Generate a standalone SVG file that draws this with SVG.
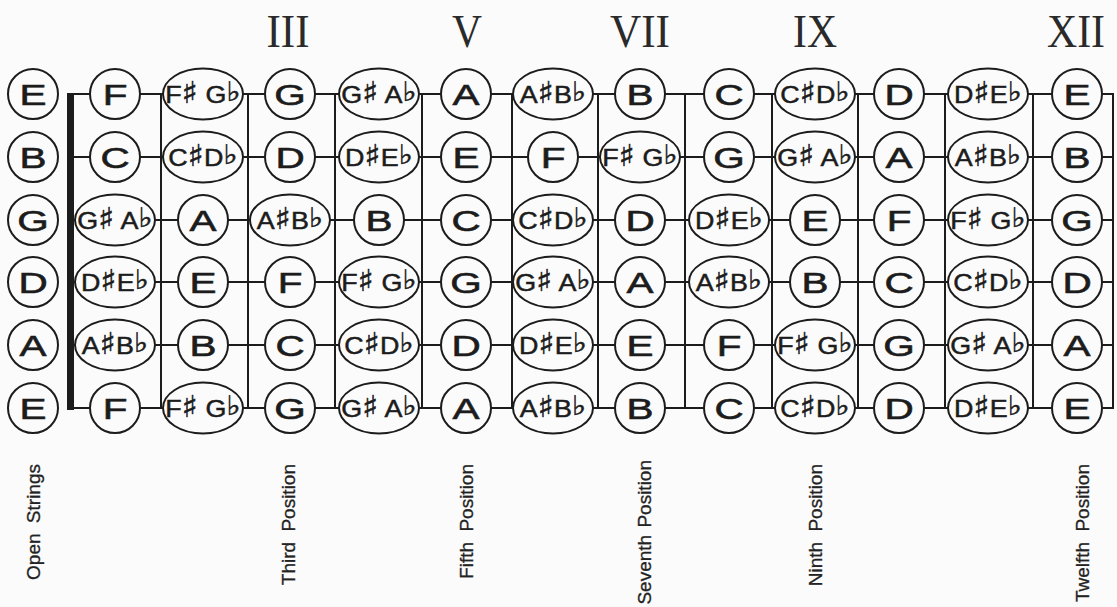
<svg xmlns="http://www.w3.org/2000/svg" width="1117" height="607" viewBox="0 0 1117 607">
<style>
.bg{fill:#fbfbfb}
.ln{stroke:#1c1c1c;stroke-width:2;fill:none}
.nut{fill:#1c1c1c}
.nd circle,.nd ellipse{fill:#fbfbfb;stroke:#1c1c1c;stroke-width:2}
.nt{font-family:"Liberation Sans",Arial,sans-serif;font-size:30px;text-anchor:middle;fill:#1c1c1c;stroke:#1c1c1c;stroke-width:0.6;transform:scale(1.35,1)}
.et{font-family:"Liberation Sans",Arial,sans-serif;font-size:24px;text-anchor:middle;fill:#1c1c1c;stroke:#1c1c1c;stroke-width:0.5;transform:scale(1.12,1)}
.s{font-family:"DejaVu Sans",sans-serif;font-size:30px;font-weight:bold}
.f{font-family:"DejaVu Sans",sans-serif;font-size:27px}
.rn{font-family:"Liberation Serif","Times New Roman",serif;font-size:46px;text-anchor:middle;fill:#2a2a2a}
.pl{font-family:"Liberation Sans",Arial,sans-serif;font-size:19px;text-anchor:end;fill:#222;stroke:#222;stroke-width:0.3;word-spacing:5px}
</style>
<rect class="bg" x="0" y="0" width="1117" height="607"/>
<g id="numerals">
<text class="rn" x="288" y="47" textLength="43" lengthAdjust="spacingAndGlyphs">III</text>
<text class="rn" x="467" y="47" textLength="30" lengthAdjust="spacingAndGlyphs">V</text>
<text class="rn" x="640" y="47" textLength="60" lengthAdjust="spacingAndGlyphs">VII</text>
<text class="rn" x="815" y="47" textLength="44" lengthAdjust="spacingAndGlyphs">IX</text>
<text class="rn" x="1076" y="47" textLength="58" lengthAdjust="spacingAndGlyphs">XII</text>
</g>
<g id="connectors">
<path class="ln" d="M70 94H1113M70 157H1113M70 220H1113M70 282H1113M70 345H1113M70 408H1113"/>
<path class="ln" d="M161 94V408M248 94V408M335 94V408M422 94V408M512 94V408M598 94V408M685 94V408M772 94V408M858 94V408M945 94V408M1033 94V408M1113 93V409"/>
<rect class="nut" x="67" y="93" width="7" height="317"/>
</g>
<g id="row1">
<g id="n1-0" class="nd" transform="translate(33,94)"><circle r="25"/><text class="nt" y="11">E</text></g>
<g id="n1-1" class="nd" transform="translate(115,94)"><circle r="25"/><text class="nt" y="11">F</text></g>
<g id="n1-2" class="nd" transform="translate(203,94)"><ellipse rx="40" ry="25.5"/><text class="et" y="9">F<tspan class="s">♯</tspan> G<tspan class="f" dy="-2">♭</tspan></text></g>
<g id="n1-3" class="nd" transform="translate(290,94)"><circle r="25"/><text class="nt" y="11">G</text></g>
<g id="n1-4" class="nd" transform="translate(379,94)"><ellipse rx="40" ry="25.5"/><text class="et" y="9">G<tspan class="s">♯</tspan> A<tspan class="f" dy="-2">♭</tspan></text></g>
<g id="n1-5" class="nd" transform="translate(466,94)"><circle r="25"/><text class="nt" y="11">A</text></g>
<g id="n1-6" class="nd" transform="translate(553,94)"><ellipse rx="40" ry="25.5"/><text class="et" y="9">A<tspan class="s">♯</tspan>B<tspan class="f" dy="-2">♭</tspan></text></g>
<g id="n1-7" class="nd" transform="translate(640,94)"><circle r="25"/><text class="nt" y="11">B</text></g>
<g id="n1-8" class="nd" transform="translate(729,94)"><circle r="25"/><text class="nt" y="11">C</text></g>
<g id="n1-9" class="nd" transform="translate(815,94)"><ellipse rx="40" ry="25.5"/><text class="et" y="9">C<tspan class="s">♯</tspan>D<tspan class="f" dy="-2">♭</tspan></text></g>
<g id="n1-10" class="nd" transform="translate(899,94)"><circle r="25"/><text class="nt" y="11">D</text></g>
<g id="n1-11" class="nd" transform="translate(988,94)"><ellipse rx="40" ry="25.5"/><text class="et" y="9">D<tspan class="s">♯</tspan>E<tspan class="f" dy="-2">♭</tspan></text></g>
<g id="n1-12" class="nd" transform="translate(1077,94)"><circle r="25"/><text class="nt" y="11">E</text></g>
</g>
<g id="row2">
<g id="n2-0" class="nd" transform="translate(33,157)"><circle r="25"/><text class="nt" y="11">B</text></g>
<g id="n2-1" class="nd" transform="translate(115,157)"><circle r="25"/><text class="nt" y="11">C</text></g>
<g id="n2-2" class="nd" transform="translate(203,157)"><ellipse rx="40" ry="25.5"/><text class="et" y="9">C<tspan class="s">♯</tspan>D<tspan class="f" dy="-2">♭</tspan></text></g>
<g id="n2-3" class="nd" transform="translate(290,157)"><circle r="25"/><text class="nt" y="11">D</text></g>
<g id="n2-4" class="nd" transform="translate(379,157)"><ellipse rx="40" ry="25.5"/><text class="et" y="9">D<tspan class="s">♯</tspan>E<tspan class="f" dy="-2">♭</tspan></text></g>
<g id="n2-5" class="nd" transform="translate(466,157)"><circle r="25"/><text class="nt" y="11">E</text></g>
<g id="n2-6" class="nd" transform="translate(553,157)"><circle r="25"/><text class="nt" y="11">F</text></g>
<g id="n2-7" class="nd" transform="translate(640,157)"><ellipse rx="40" ry="25.5"/><text class="et" y="9">F<tspan class="s">♯</tspan> G<tspan class="f" dy="-2">♭</tspan></text></g>
<g id="n2-8" class="nd" transform="translate(729,157)"><circle r="25"/><text class="nt" y="11">G</text></g>
<g id="n2-9" class="nd" transform="translate(815,157)"><ellipse rx="40" ry="25.5"/><text class="et" y="9">G<tspan class="s">♯</tspan> A<tspan class="f" dy="-2">♭</tspan></text></g>
<g id="n2-10" class="nd" transform="translate(899,157)"><circle r="25"/><text class="nt" y="11">A</text></g>
<g id="n2-11" class="nd" transform="translate(988,157)"><ellipse rx="40" ry="25.5"/><text class="et" y="9">A<tspan class="s">♯</tspan>B<tspan class="f" dy="-2">♭</tspan></text></g>
<g id="n2-12" class="nd" transform="translate(1077,157)"><circle r="25"/><text class="nt" y="11">B</text></g>
</g>
<g id="row3">
<g id="n3-0" class="nd" transform="translate(33,220)"><circle r="25"/><text class="nt" y="11">G</text></g>
<g id="n3-1" class="nd" transform="translate(115,220)"><ellipse rx="40" ry="25.5"/><text class="et" y="9">G<tspan class="s">♯</tspan> A<tspan class="f" dy="-2">♭</tspan></text></g>
<g id="n3-2" class="nd" transform="translate(203,220)"><circle r="25"/><text class="nt" y="11">A</text></g>
<g id="n3-3" class="nd" transform="translate(290,220)"><ellipse rx="40" ry="25.5"/><text class="et" y="9">A<tspan class="s">♯</tspan>B<tspan class="f" dy="-2">♭</tspan></text></g>
<g id="n3-4" class="nd" transform="translate(379,220)"><circle r="25"/><text class="nt" y="11">B</text></g>
<g id="n3-5" class="nd" transform="translate(466,220)"><circle r="25"/><text class="nt" y="11">C</text></g>
<g id="n3-6" class="nd" transform="translate(553,220)"><ellipse rx="40" ry="25.5"/><text class="et" y="9">C<tspan class="s">♯</tspan>D<tspan class="f" dy="-2">♭</tspan></text></g>
<g id="n3-7" class="nd" transform="translate(640,220)"><circle r="25"/><text class="nt" y="11">D</text></g>
<g id="n3-8" class="nd" transform="translate(729,220)"><ellipse rx="40" ry="25.5"/><text class="et" y="9">D<tspan class="s">♯</tspan>E<tspan class="f" dy="-2">♭</tspan></text></g>
<g id="n3-9" class="nd" transform="translate(815,220)"><circle r="25"/><text class="nt" y="11">E</text></g>
<g id="n3-10" class="nd" transform="translate(899,220)"><circle r="25"/><text class="nt" y="11">F</text></g>
<g id="n3-11" class="nd" transform="translate(988,220)"><ellipse rx="40" ry="25.5"/><text class="et" y="9">F<tspan class="s">♯</tspan> G<tspan class="f" dy="-2">♭</tspan></text></g>
<g id="n3-12" class="nd" transform="translate(1077,220)"><circle r="25"/><text class="nt" y="11">G</text></g>
</g>
<g id="row4">
<g id="n4-0" class="nd" transform="translate(33,282)"><circle r="25"/><text class="nt" y="11">D</text></g>
<g id="n4-1" class="nd" transform="translate(115,282)"><ellipse rx="40" ry="25.5"/><text class="et" y="9">D<tspan class="s">♯</tspan>E<tspan class="f" dy="-2">♭</tspan></text></g>
<g id="n4-2" class="nd" transform="translate(203,282)"><circle r="25"/><text class="nt" y="11">E</text></g>
<g id="n4-3" class="nd" transform="translate(290,282)"><circle r="25"/><text class="nt" y="11">F</text></g>
<g id="n4-4" class="nd" transform="translate(379,282)"><ellipse rx="40" ry="25.5"/><text class="et" y="9">F<tspan class="s">♯</tspan> G<tspan class="f" dy="-2">♭</tspan></text></g>
<g id="n4-5" class="nd" transform="translate(466,282)"><circle r="25"/><text class="nt" y="11">G</text></g>
<g id="n4-6" class="nd" transform="translate(553,282)"><ellipse rx="40" ry="25.5"/><text class="et" y="9">G<tspan class="s">♯</tspan> A<tspan class="f" dy="-2">♭</tspan></text></g>
<g id="n4-7" class="nd" transform="translate(640,282)"><circle r="25"/><text class="nt" y="11">A</text></g>
<g id="n4-8" class="nd" transform="translate(729,282)"><ellipse rx="40" ry="25.5"/><text class="et" y="9">A<tspan class="s">♯</tspan>B<tspan class="f" dy="-2">♭</tspan></text></g>
<g id="n4-9" class="nd" transform="translate(815,282)"><circle r="25"/><text class="nt" y="11">B</text></g>
<g id="n4-10" class="nd" transform="translate(899,282)"><circle r="25"/><text class="nt" y="11">C</text></g>
<g id="n4-11" class="nd" transform="translate(988,282)"><ellipse rx="40" ry="25.5"/><text class="et" y="9">C<tspan class="s">♯</tspan>D<tspan class="f" dy="-2">♭</tspan></text></g>
<g id="n4-12" class="nd" transform="translate(1077,282)"><circle r="25"/><text class="nt" y="11">D</text></g>
</g>
<g id="row5">
<g id="n5-0" class="nd" transform="translate(33,345)"><circle r="25"/><text class="nt" y="11">A</text></g>
<g id="n5-1" class="nd" transform="translate(115,345)"><ellipse rx="40" ry="25.5"/><text class="et" y="9">A<tspan class="s">♯</tspan>B<tspan class="f" dy="-2">♭</tspan></text></g>
<g id="n5-2" class="nd" transform="translate(203,345)"><circle r="25"/><text class="nt" y="11">B</text></g>
<g id="n5-3" class="nd" transform="translate(290,345)"><circle r="25"/><text class="nt" y="11">C</text></g>
<g id="n5-4" class="nd" transform="translate(379,345)"><ellipse rx="40" ry="25.5"/><text class="et" y="9">C<tspan class="s">♯</tspan>D<tspan class="f" dy="-2">♭</tspan></text></g>
<g id="n5-5" class="nd" transform="translate(466,345)"><circle r="25"/><text class="nt" y="11">D</text></g>
<g id="n5-6" class="nd" transform="translate(553,345)"><ellipse rx="40" ry="25.5"/><text class="et" y="9">D<tspan class="s">♯</tspan>E<tspan class="f" dy="-2">♭</tspan></text></g>
<g id="n5-7" class="nd" transform="translate(640,345)"><circle r="25"/><text class="nt" y="11">E</text></g>
<g id="n5-8" class="nd" transform="translate(729,345)"><circle r="25"/><text class="nt" y="11">F</text></g>
<g id="n5-9" class="nd" transform="translate(815,345)"><ellipse rx="40" ry="25.5"/><text class="et" y="9">F<tspan class="s">♯</tspan> G<tspan class="f" dy="-2">♭</tspan></text></g>
<g id="n5-10" class="nd" transform="translate(899,345)"><circle r="25"/><text class="nt" y="11">G</text></g>
<g id="n5-11" class="nd" transform="translate(988,345)"><ellipse rx="40" ry="25.5"/><text class="et" y="9">G<tspan class="s">♯</tspan> A<tspan class="f" dy="-2">♭</tspan></text></g>
<g id="n5-12" class="nd" transform="translate(1077,345)"><circle r="25"/><text class="nt" y="11">A</text></g>
</g>
<g id="row6">
<g id="n6-0" class="nd" transform="translate(33,408)"><circle r="25"/><text class="nt" y="11">E</text></g>
<g id="n6-1" class="nd" transform="translate(115,408)"><circle r="25"/><text class="nt" y="11">F</text></g>
<g id="n6-2" class="nd" transform="translate(203,408)"><ellipse rx="40" ry="25.5"/><text class="et" y="9">F<tspan class="s">♯</tspan> G<tspan class="f" dy="-2">♭</tspan></text></g>
<g id="n6-3" class="nd" transform="translate(290,408)"><circle r="25"/><text class="nt" y="11">G</text></g>
<g id="n6-4" class="nd" transform="translate(379,408)"><ellipse rx="40" ry="25.5"/><text class="et" y="9">G<tspan class="s">♯</tspan> A<tspan class="f" dy="-2">♭</tspan></text></g>
<g id="n6-5" class="nd" transform="translate(466,408)"><circle r="25"/><text class="nt" y="11">A</text></g>
<g id="n6-6" class="nd" transform="translate(553,408)"><ellipse rx="40" ry="25.5"/><text class="et" y="9">A<tspan class="s">♯</tspan>B<tspan class="f" dy="-2">♭</tspan></text></g>
<g id="n6-7" class="nd" transform="translate(640,408)"><circle r="25"/><text class="nt" y="11">B</text></g>
<g id="n6-8" class="nd" transform="translate(729,408)"><circle r="25"/><text class="nt" y="11">C</text></g>
<g id="n6-9" class="nd" transform="translate(815,408)"><ellipse rx="40" ry="25.5"/><text class="et" y="9">C<tspan class="s">♯</tspan>D<tspan class="f" dy="-2">♭</tspan></text></g>
<g id="n6-10" class="nd" transform="translate(899,408)"><circle r="25"/><text class="nt" y="11">D</text></g>
<g id="n6-11" class="nd" transform="translate(988,408)"><ellipse rx="40" ry="25.5"/><text class="et" y="9">D<tspan class="s">♯</tspan>E<tspan class="f" dy="-2">♭</tspan></text></g>
<g id="n6-12" class="nd" transform="translate(1077,408)"><circle r="25"/><text class="nt" y="11">E</text></g>
</g>
<g id="position-labels">
<text class="pl" transform="translate(40,464) rotate(-90)">Open Strings</text>
<text class="pl" transform="translate(295,464) rotate(-90)">Third Position</text>
<text class="pl" transform="translate(473,464) rotate(-90)">Fifth Position</text>
<text class="pl" transform="translate(651,460) rotate(-90)" style="word-spacing:2px">Seventh Position</text>
<text class="pl" transform="translate(822,464) rotate(-90)">Ninth Position</text>
<text class="pl" transform="translate(1089,464) rotate(-90)">Twelfth Position</text>
</g>
</svg>
